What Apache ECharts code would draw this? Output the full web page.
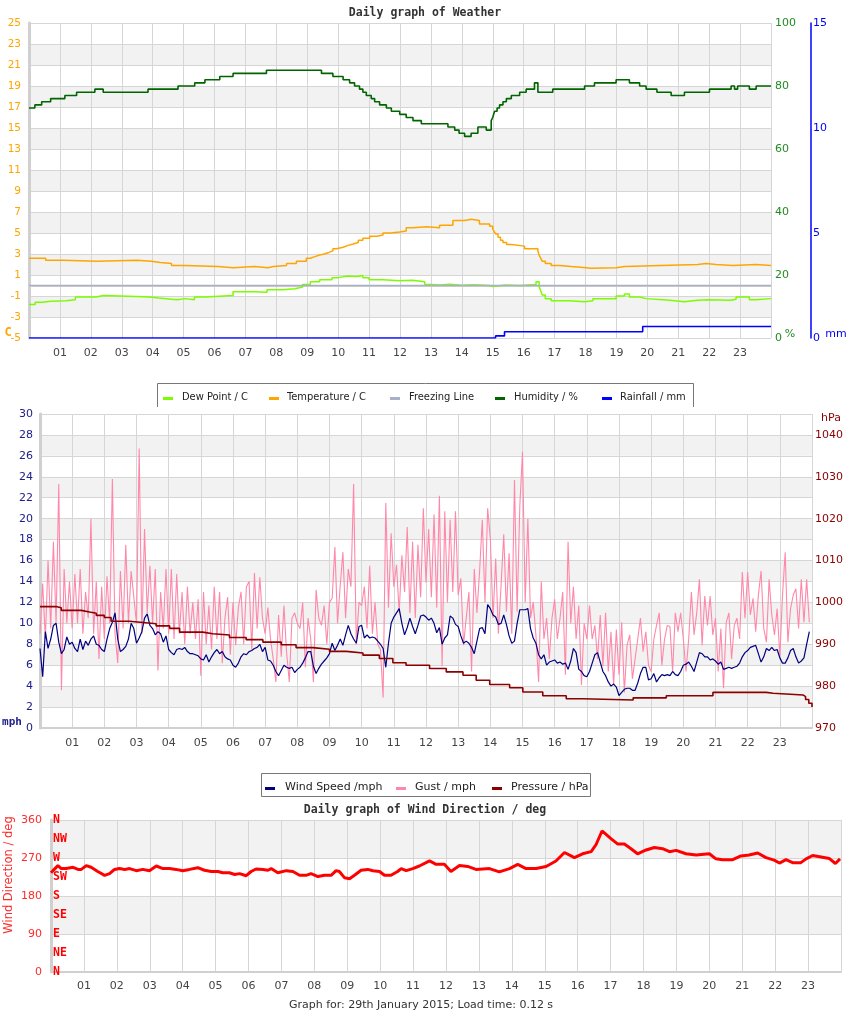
<!DOCTYPE html>
<html>
<head>
<meta charset="utf-8">
<script src="https://cdn.jsdelivr.net/npm/echarts@6/dist/echarts.min.js"></script>
<style>html,body{margin:0;padding:0;background:#fff;}#c{width:850px;height:1017px;}</style>
</head>
<body>
<div id="c"></div>
<script>
// ---------- tick labels ----------
const hourLabels = ['01','02','03','04','05','06','07','08','09','10','11','12','13','14','15','16','17','18','19','20','21','22','23'];
const compassLabels = ['N','NE','E','SE','S','SW','W','NW','N'];

// ---------- weather panel (hours, values) ----------
const tempHours = [0,0.54,1.11,2.19,3.48,3.96,4.25,4.61,5.04,6.12,6.6,7.3,7.73,7.9,8.33,8.65,8.97,9.1,9.25,9.4,9.55,9.7,9.83,9.95,10.16,10.3,10.48,10.65,10.8,11.02,11.25,11.45,11.7,11.99,12.2,12.42,12.86,13.28,13.71,14.09,14.3,14.57,14.9,15.0,15.05,15.1,15.17,15.25,15.33,15.45,15.6,16.03,16.46,16.5,16.55,16.6,16.7,16.89,17.16,17.54,18.02,18.18,18.99,19.26,20.45,21.63,21.9,22.22,22.76,23.52,24];
const tempValues = [2.6,2.4,2.3,2.4,2.3,2.2,2.1,1.9,1.8,1.7,1.8,1.7,1.8,1.9,2.1,2.3,2.6,2.75,2.9,3.0,3.15,3.3,3.5,3.65,3.8,3.95,4.1,4.3,4.5,4.7,4.8,5.0,5.1,5.2,5.5,5.6,5.5,5.75,6.2,6.3,6.2,5.85,5.65,5.4,5.1,4.9,4.6,4.3,4.1,3.9,3.75,3.5,3.25,2.9,2.6,2.3,2.1,1.9,1.8,1.7,1.65,1.7,1.8,1.9,2.0,2.1,2.0,1.9,2.0,1.9,1.9];

const dewHours = [0,0.2,0.44,0.7,1.2,1.5,2.17,2.4,3.48,3.9,4.2,4.6,4.8,5.04,5.35,5.7,6.6,7.3,7.7,8.2,8.6,8.85,9.1,9.4,9.8,10.0,10.3,10.6,10.8,11.0,11.45,12.0,12.4,12.8,13.0,13.3,13.6,14.0,14.4,14.9,15.0,15.4,15.9,16.4,16.5,16.55,16.6,16.7,16.89,17.48,17.97,18.24,18.99,19.26,19.42,19.75,19.96,20.72,21.2,21.63,21.95,22.71,22.87,23.3,23.52,24];
const dewValues = [-1.8,-1.6,-1.5,-1.45,-1.35,-1.1,-0.95,-1.05,-1.1,-1.2,-1.3,-1.35,-1.25,-1.35,-1.1,-0.95,-0.6,-0.65,-0.4,-0.3,-0.15,0.1,0.35,0.55,0.75,0.9,0.85,0.95,0.75,0.55,0.45,0.5,0.35,0.1,0.05,0.12,0.02,0.08,0.0,-0.1,0.05,0.0,0.1,0.35,-0.1,-0.5,-0.9,-1.25,-1.45,-1.55,-1.45,-1.25,-1.0,-0.8,-1.1,-1.25,-1.4,-1.55,-1.4,-1.35,-1.4,-1.3,-1.1,-1.35,-1.25,-1.25];

const freezeHours = [0,24];
const freezeValues = [0,0];

const humHours = [0,0.19,0.41,0.7,1.16,1.54,2.13,2.4,3.85,4.82,5.36,5.69,6.17,6.6,7.68,9.46,9.83,10.16,10.37,10.53,10.69,10.8,10.91,11.07,11.18,11.34,11.56,11.72,11.99,12.2,12.42,12.69,13.55,13.77,13.91,14.09,14.3,14.52,14.79,14.95,15.0,15.03,15.06,15.14,15.22,15.33,15.44,15.6,15.87,16.08,16.35,16.46,16.94,17.97,18.29,18.99,19.42,19.75,19.96,20.31,20.77,21.2,22.01,22.71,22.82,22.92,23.3,23.52,24];
const humValues = [73,74,75,76,77,78,79,78,79,80,81,82,83,84,85,84,83,82,81,80,79,78,77,76,75,74,73,72,71,70,69,68,67,66,65,64,65,67,66,69,70,71,72,73,74,75,76,77,78,79,81,78,79,80,81,82,81,80,79,78,77,78,79,80,79,80,79,80,80];

const rainHours = [0,15.09,15.38,19.85,24];
const rainValues = [0,0.1,0.3,0.55,0.55];

// ---------- wind panel: 5-minute samples, one row per hour ----------
const gustMph = [
  9,13.8,8.5,16,9.5,17.8,10,23.3,3.6,15.2,10,14,
  9.5,14.7,10,15.2,9,13,10.5,20,9,14,6.6,13.5,
  8.5,14.5,10,23.8,9,6.2,15,9.5,17.5,10,15,12.5,
  10,26.7,9,19,11,15.5,10,15.2,5.5,13,9.5,15.2,
  9,15.2,8.5,14.7,9,13,8,13.5,9,12,8.5,12.3,
  5,13,8,11.7,7.5,13.5,8.5,13,6.2,10.5,12.5,7,
  12,7.9,11.5,13,8,13.5,14,7.5,14.8,9.5,14.4,10.5,
  9,11.5,8.5,6.6,4.4,10.8,6.8,11.7,7.2,4.4,10.5,11,
  10,9.5,12,5.8,10.5,8.5,4.4,13.2,10.5,9.8,11.7,8,
  12,12.4,17.3,10,13.6,16.8,10.5,15.2,13.5,23.3,8,12,
  11.7,13.5,9.5,15.5,9,12,8,7.5,2.9,21.5,11.5,18.6,
  13.5,15.6,11,16.5,13,19.2,11,17.8,10.5,17.5,12.5,21,
  13.9,19,12.5,20.4,11.5,22.2,5.9,20.7,12,19.9,13,20.7,
  12.7,14.3,7.9,10.5,13,5.4,15.2,11,15,19.9,12,21,
  18.1,10.5,16.2,9,13.6,18.5,11.1,16.7,9,23.7,11.1,21.2,
  26.4,12,20,10.5,12,8.9,4.4,14,8.5,10.5,6.6,10.5,
  12.3,8.5,10.5,13,5.1,17.8,10,13.5,8.5,11.7,4.1,10,
  8.5,11.7,8.5,9.8,6.6,10.8,5.9,11,5.4,9.2,4.1,9.4,
  5.1,10.1,3.4,7.9,8.9,4.7,6.6,8.5,10.5,7.3,9.2,6,
  5.4,8.5,9.8,11,6,8.5,9.8,9.7,5.4,11,9.2,11,
  8.5,5.4,8.5,13,8.9,11,14.2,7.9,12.6,9.8,12.6,8.9,
  10.5,5.4,9.5,3.8,10.1,11,6.6,9.8,10.5,8.5,14.9,10.5,
  14.9,10.8,12.4,9.2,12.7,15,9.5,8.2,14.2,10.8,8.9,11.4,
  6.8,12.7,16.8,8.2,11.4,12.7,13.3,9.5,14.2,10.1,14.2,10.1
];
const windMph = [
  7.6,4.9,9.2,7.6,8.5,9.8,10,8.2,7.1,7.5,8.7,8.0,
  8.2,7.6,7.3,8.5,7.5,8.3,7.9,8.5,8.8,8.0,7.9,7.5,
  7.3,8.5,9.5,10.1,11.0,8.5,7.3,7.5,7.8,8.5,10.0,9.5,
  8.1,8.6,9.2,10.5,10.9,9.8,9.5,8.9,9.2,9.0,8.2,8.8,
  7.5,7.2,7.0,7.5,7.6,7.5,7.7,7.3,7.1,7.1,7.0,6.9,
  6.6,6.5,7.0,6.3,6.8,7.2,7.5,7.1,7.3,6.8,6.6,6.5,
  6.0,5.8,6.2,6.8,7.1,7.0,7.3,7.4,7.6,7.7,8.0,7.3,
  7.7,6.5,6.4,6.0,5.4,5.0,5.5,6.0,5.8,5.7,5.8,5.3,
  5.6,5.8,6.2,6.7,7.3,7.3,5.9,5.2,5.7,6.1,6.4,6.7,
  7.1,8.1,7.4,7.9,8.5,7.9,8.9,9.8,9.0,8.5,8.1,9.7,
  9.8,8.6,8.9,8.6,8.7,8.6,8.3,8.0,7.6,5.8,8.1,10.0,
  10.6,11.0,11.4,10.0,8.9,9.6,10.5,9.7,9.0,9.8,10.7,10.8,
  10.6,10.3,10.5,10.0,9.1,9.6,8.0,8.6,8.9,10.7,10.5,9.9,
  9.7,8.8,8.1,8.3,8.1,7.7,7.1,8.3,9.5,9.6,9.0,11.8,
  11.4,10.8,10.6,9.9,10.0,10.8,9.9,8.8,8.1,8.3,10.0,11.3,
  11.3,11.3,11.4,9.5,8.6,8.1,7.0,6.6,7.0,6.0,6.3,6.4,
  6.5,6.2,6.3,6.1,6.2,5.6,6.4,7.6,7.2,5.6,5.4,5.0,
  4.9,5.4,6.2,7.0,7.2,6.3,5.4,5.0,4.4,4.0,4.2,3.9,
  3.1,3.4,3.7,3.8,3.8,3.6,3.6,4.3,5.2,5.8,5.8,4.6,
  4.7,5.2,4.4,4.8,5.1,5.0,5.1,5.0,5.4,5.1,5.0,5.4,
  6.0,6.1,6.3,5.9,5.4,6.3,7.2,7.1,6.8,6.8,6.5,6.6,
  6.4,6.1,6.3,5.6,5.7,5.8,5.7,5.8,5.9,6.2,6.8,7.2,
  7.4,7.7,7.8,7.9,7.1,6.3,6.8,7.6,7.4,7.7,7.4,7.5,
  6.7,6.2,6.2,6.7,7.4,7.6,6.8,6.2,6.4,6.7,8.0,9.2
];
const sampleMinutes = 5;

const pressHours = [0,0.5,0.66,1.28,1.54,1.75,2.0,2.21,2.78,3.2,3.61,4.03,4.34,5.06,5.37,5.89,6.41,6.93,7.5,7.96,8.48,9.0,9.52,10.04,10.55,10.97,11.38,12.11,12.63,13.15,13.56,13.98,14.6,15.01,15.63,16.36,16.88,18.44,19.47,20.92,22.58,22.79,23.72,23.8,23.9,24];
const pressValues = [999.0,998.7,998.1,997.7,997.4,996.9,996.4,995.5,995.2,994.9,994.4,993.8,992.9,992.5,992.2,991.6,991.1,990.5,989.9,989.2,988.8,988.3,987.9,987.4,986.6,985.6,985.0,984.2,983.4,982.6,981.4,980.4,979.6,978.6,977.7,977.0,976.7,977.2,977.7,978.5,978.3,977.9,977.5,976.8,975.9,975.0];

// ---------- wind direction panel ----------
const dirHours = [0.0,0.06,0.21,0.31,0.46,0.67,0.82,0.92,1.07,1.22,1.42,1.63,1.78,1.93,2.08,2.24,2.39,2.59,2.79,2.99,3.2,3.4,3.6,3.8,4.0,4.21,4.46,4.66,4.87,5.07,5.22,5.42,5.58,5.73,5.93,6.08,6.23,6.44,6.59,6.69,6.89,7.15,7.35,7.55,7.75,7.9,8.11,8.31,8.51,8.66,8.76,8.92,9.07,9.22,9.42,9.62,9.78,9.98,10.13,10.33,10.53,10.64,10.79,10.99,11.19,11.5,11.7,11.95,12.15,12.41,12.66,12.91,13.32,13.62,13.93,14.18,14.43,14.74,15.04,15.34,15.6,15.9,16.15,16.41,16.56,16.74,17.01,17.22,17.42,17.62,17.82,18.08,18.33,18.58,18.79,18.99,19.29,19.6,20.0,20.2,20.4,20.71,20.96,21.21,21.47,21.72,21.97,22.13,22.33,22.53,22.78,22.94,23.14,23.44,23.64,23.83,23.97];
const dirValues = [235,240,252,245,245,248,243,243,252,248,238,229,233,243,245,243,245,240,243,240,251,245,245,243,240,243,247,241,238,238,235,235,231,233,228,238,244,243,241,245,235,240,238,229,229,233,226,229,229,240,238,223,221,229,241,243,240,238,229,229,238,245,240,245,251,263,255,255,238,252,250,243,245,237,245,255,245,245,250,263,283,271,280,285,302,334,316,303,303,292,280,289,295,292,285,288,280,277,280,268,266,266,275,277,282,271,265,258,266,259,259,268,276,272,269,257,268];

// ---------- build ----------
const pairs = (xs, ys) => xs.map((x, i) => [x, ys[i]]);
const sampled = (vals) => vals.map((v, i) => [i * sampleMinutes / 60, v]);

const SANS = '"DejaVu Sans", sans-serif';
const MONO = '"DejaVu Sans Mono", monospace';
const GRIDC = '#d6d6d6';
const BAND = ['#ffffff', '#f2f2f2'];

function hourAxis(gi, margin) {
  return {
    type: 'value', gridIndex: gi, min: 0, max: 24, interval: 1,
    axisLine: { show: true, lineStyle: { color: '#d0d0d0', width: 2 } },
    axisTick: { show: false },
    axisLabel: { margin: margin, color: '#444', fontSize: 11, fontFamily: SANS,
      formatter: v => hourLabels[v - 1] || '' },
    splitLine: { show: true, lineStyle: { color: GRIDC, width: 1 } }
  };
}
function leftAxis(gi, min, max, interval, color, margin, extra) {
  return Object.assign({
    type: 'value', gridIndex: gi, position: 'left', min, max, interval,
    axisLine: { show: true, lineStyle: { color: '#d0d0d0', width: 3 } },
    axisTick: { show: false },
    axisLabel: { margin, color, fontSize: 11, fontFamily: SANS },
    splitLine: { show: true, lineStyle: { color: GRIDC, width: 1 } },
    splitArea: { show: true, areaStyle: { color: BAND } }
  }, extra || {});
}
function line(name, xi, yi, data, color, width, step) {
  return { name, type: 'line', xAxisIndex: xi, yAxisIndex: yi, data, step: step || false,
    symbol: 'none', silent: true, lineStyle: { color, width }, itemStyle: { color } };
}
function txt(x, y, text, fill, font, align, extra) {
  return Object.assign({ type: 'text', x, y, silent: true,
    style: { text, fill, font, textAlign: align || 'center', textVerticalAlign: 'middle' } }, extra || {});
}
function legendItem(x, tx, y, color, label, font) {
  return [
    { type: 'rect', silent: true, shape: { x: x, y: y - 1, width: 10, height: 3 }, style: { fill: color } },
    txt(tx, y - 1, label, '#222', font, 'left')
  ];
}

const LEG1FONT = '11px "DejaVu Sans Condensed", "Liberation Sans Narrow", "Liberation Sans", sans-serif';
const LEG2FONT = '11px ' + SANS;

const option = {
  animation: false,
  backgroundColor: '#fff',
  grid: [
    { left: 29, top: 23, width: 742, height: 315 },
    { left: 40, top: 414, width: 772, height: 314 },
    { left: 51, top: 820, width: 790, height: 152 }
  ],
  xAxis: [ hourAxis(0, 10), hourAxis(1, 10), hourAxis(2, 9) ],
  yAxis: [
    leftAxis(0, -5, 25, 2, '#ffa500', 8, { axisLabel: { margin: 8, color: '#ffa500', fontSize: 10.5, fontFamily: SANS } }),
    { type: 'value', gridIndex: 0, position: 'right', min: 0, max: 100, interval: 20,
      axisLine: { show: false }, axisTick: { show: false }, splitLine: { show: false },
      axisLabel: { margin: 4, color: '#228b22', fontSize: 11, fontFamily: SANS } },
    { type: 'value', gridIndex: 0, position: 'right', offset: 40, min: 0, max: 15, interval: 5,
      axisLine: { show: true, lineStyle: { color: '#0000ff', width: 1.5 } }, axisTick: { show: false },
      splitLine: { show: false },
      axisLabel: { margin: 2, color: '#0000ff', fontSize: 11, fontFamily: SANS } },
    leftAxis(1, 0, 30, 2, '#20208a', 7),
    { type: 'value', gridIndex: 1, position: 'right', min: 970, max: 1045, interval: 10,
      axisLine: { show: false }, axisTick: { show: false }, splitLine: { show: false },
      axisLabel: { margin: 3, color: '#8b0000', fontSize: 11, fontFamily: SANS,
        formatter: v => (v <= 1040 ? String(v) : '') } },
    leftAxis(2, 0, 360, 90, '#ff2a2a', 9),
    { type: 'value', gridIndex: 2, position: 'left', min: 0, max: 360, interval: 45,
      axisLine: { show: false }, axisTick: { show: false }, splitLine: { show: false },
      axisLabel: { inside: true, margin: 2, color: '#ff0000', fontSize: 11.5, fontWeight: 'bold',
        fontFamily: MONO, formatter: v => compassLabels[v / 45] || '' } }
  ],
  series: [
    line('Dew Point / C', 0, 0, pairs(dewHours, dewValues), '#7cfc00', 1.5, 'end'),
    line('Temperature / C', 0, 0, pairs(tempHours, tempValues), '#ffa500', 1.5, 'end'),
    line('Freezing Line', 0, 0, pairs(freezeHours, freezeValues), '#a8b0c8', 1.5),
    line('Humidity / %', 0, 1, pairs(humHours, humValues), '#006400', 1.6, 'end'),
    line('Rainfall / mm', 0, 2, pairs(rainHours, rainValues), '#0000ff', 1.6, 'end'),
    line('Gust / mph', 1, 3, sampled(gustMph), '#ff88aa', 1.1),
    line('Wind Speed /mph', 1, 3, sampled(windMph), '#000080', 1.2),
    line('Pressure / hPa', 1, 4, pairs(pressHours, pressValues), '#8b0000', 1.6, 'end'),
    line('Wind Direction / deg', 2, 5, pairs(dirHours, dirValues), '#ff0000', 3)
  ],
  graphic: [
    txt(425, 13, 'Daily graph of Weather', '#333', 'bold 11.5px ' + MONO),
    txt(8, 333, 'C', '#ffa500', 'bold 12px ' + MONO),
    txt(790, 334, '%', '#228b22', '11px ' + SANS),
    txt(836, 334, 'mm', '#0000ff', '11px ' + SANS),
    { type: 'polyline', silent: true, shape: { points: [[157.5, 407], [157.5, 383.5], [693.5, 383.5], [693.5, 407]] },
      style: { stroke: '#777', lineWidth: 1, fill: null } },
    ...legendItem(163, 182, 398, '#7cfc00', 'Dew Point / C', LEG1FONT),
    ...legendItem(269, 287, 398, '#ffa500', 'Temperature / C', LEG1FONT),
    ...legendItem(390, 409, 398, '#a8b0c8', 'Freezing Line', LEG1FONT),
    ...legendItem(495, 514, 398, '#006400', 'Humidity / %', LEG1FONT),
    ...legendItem(602, 620, 398, '#0000ff', 'Rainfall / mm', LEG1FONT),
    txt(831, 418, 'hPa', '#8b0000', '11px ' + SANS),
    txt(12, 722, 'mph', '#20208a', 'bold 11px ' + MONO),
    { type: 'rect', silent: true, shape: { x: 261.5, y: 773.5, width: 329, height: 23 },
      style: { stroke: '#777', lineWidth: 1, fill: '#fff' } },
    ...legendItem(265, 285, 788, '#000080', 'Wind Speed /mph', LEG2FONT),
    ...legendItem(396, 415, 788, '#ff88aa', 'Gust / mph', LEG2FONT),
    ...legendItem(492, 511, 788, '#8b0000', 'Pressure / hPa', LEG2FONT),
    txt(425, 810, 'Daily graph of Wind Direction / deg', '#333', 'bold 11.5px ' + MONO),
    txt(9, 875, 'Wind Direction / deg', '#ff2a2a', '11.5px ' + SANS, 'center', { rotation: Math.PI / 2 }),
    txt(421, 1005, 'Graph for: 29th January 2015; Load time: 0.12 s', '#333', '11px ' + SANS)
  ]
};

const chart = echarts.init(document.getElementById('c'), null, { renderer: 'canvas', width: 850, height: 1017 });
chart.setOption(option);
</script>
</body>
</html>
